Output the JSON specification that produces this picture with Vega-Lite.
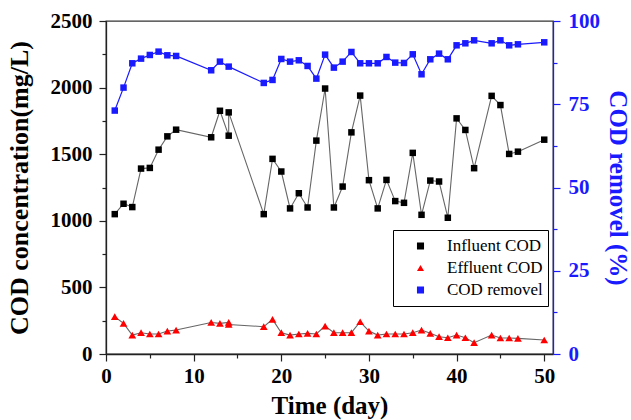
{
  "$schema": "https://vega.github.io/schema/vega-lite/v6.json",
  "width": 447,
  "height": 333,
  "autosize": "none",
  "padding": {"left": 106, "top": 21, "right": 78, "bottom": 66},
  "background": "white",
  "config": {
    "font": "Liberation Serif",
    "view": {"stroke": "#333333", "strokeWidth": 1.3},
    "axis": {
      "grid": false,
      "labelFont": "Liberation Serif",
      "labelFontWeight": "bold",
      "labelFontSize": 21,
      "labelColor": "black",
      "titleFont": "Liberation Serif",
      "titleFontWeight": "bold",
      "titleColor": "black",
      "domainColor": "#222222",
      "domainWidth": 1.3,
      "tickColor": "#222222",
      "tickWidth": 1.2,
      "labelFlush": false,
      "labelOverlap": false
    },
    "legend": {
      "labelFont": "Liberation Serif",
      "labelFontSize": 17,
      "labelColor": "black"
    }
  },
  "data": {
    "values": [
      {"day": 1, "value": 1050, "series": "Influent COD"},
      {"day": 2, "value": 1128, "series": "Influent COD"},
      {"day": 3, "value": 1103, "series": "Influent COD"},
      {"day": 4, "value": 1392, "series": "Influent COD"},
      {"day": 5, "value": 1397, "series": "Influent COD"},
      {"day": 6, "value": 1534, "series": "Influent COD"},
      {"day": 7, "value": 1634, "series": "Influent COD"},
      {"day": 8, "value": 1684, "series": "Influent COD"},
      {"day": 12, "value": 1627, "series": "Influent COD"},
      {"day": 13, "value": 1826, "series": "Influent COD"},
      {"day": 14, "value": 1639, "series": "Influent COD"},
      {"day": 14, "value": 1814, "series": "Influent COD"},
      {"day": 18, "value": 1050, "series": "Influent COD"},
      {"day": 19, "value": 1465, "series": "Influent COD"},
      {"day": 20, "value": 1370, "series": "Influent COD"},
      {"day": 21, "value": 1093, "series": "Influent COD"},
      {"day": 22, "value": 1207, "series": "Influent COD"},
      {"day": 23, "value": 1100, "series": "Influent COD"},
      {"day": 24, "value": 1602, "series": "Influent COD"},
      {"day": 25, "value": 1993, "series": "Influent COD"},
      {"day": 26, "value": 1100, "series": "Influent COD"},
      {"day": 27, "value": 1257, "series": "Influent COD"},
      {"day": 28, "value": 1664, "series": "Influent COD"},
      {"day": 29, "value": 1940, "series": "Influent COD"},
      {"day": 30, "value": 1305, "series": "Influent COD"},
      {"day": 31, "value": 1093, "series": "Influent COD"},
      {"day": 32, "value": 1307, "series": "Influent COD"},
      {"day": 33, "value": 1148, "series": "Influent COD"},
      {"day": 34, "value": 1135, "series": "Influent COD"},
      {"day": 35, "value": 1510, "series": "Influent COD"},
      {"day": 36, "value": 1045, "series": "Influent COD"},
      {"day": 37, "value": 1302, "series": "Influent COD"},
      {"day": 38, "value": 1295, "series": "Influent COD"},
      {"day": 39, "value": 1023, "series": "Influent COD"},
      {"day": 40, "value": 1769, "series": "Influent COD"},
      {"day": 41, "value": 1682, "series": "Influent COD"},
      {"day": 42, "value": 1395, "series": "Influent COD"},
      {"day": 44, "value": 1938, "series": "Influent COD"},
      {"day": 45, "value": 1869, "series": "Influent COD"},
      {"day": 46, "value": 1502, "series": "Influent COD"},
      {"day": 47, "value": 1519, "series": "Influent COD"},
      {"day": 50, "value": 1609, "series": "Influent COD"},
      {"day": 1, "value": 280, "series": "Effluent COD"},
      {"day": 2, "value": 230, "series": "Effluent COD"},
      {"day": 3, "value": 142, "series": "Effluent COD"},
      {"day": 4, "value": 160, "series": "Effluent COD"},
      {"day": 5, "value": 150, "series": "Effluent COD"},
      {"day": 6, "value": 150, "series": "Effluent COD"},
      {"day": 7, "value": 172, "series": "Effluent COD"},
      {"day": 8, "value": 180, "series": "Effluent COD"},
      {"day": 12, "value": 237, "series": "Effluent COD"},
      {"day": 13, "value": 230, "series": "Effluent COD"},
      {"day": 14, "value": 237, "series": "Effluent COD"},
      {"day": 14, "value": 222, "series": "Effluent COD"},
      {"day": 18, "value": 205, "series": "Effluent COD"},
      {"day": 19, "value": 260, "series": "Effluent COD"},
      {"day": 20, "value": 160, "series": "Effluent COD"},
      {"day": 21, "value": 142, "series": "Effluent COD"},
      {"day": 22, "value": 150, "series": "Effluent COD"},
      {"day": 23, "value": 155, "series": "Effluent COD"},
      {"day": 24, "value": 150, "series": "Effluent COD"},
      {"day": 25, "value": 210, "series": "Effluent COD"},
      {"day": 26, "value": 160, "series": "Effluent COD"},
      {"day": 27, "value": 160, "series": "Effluent COD"},
      {"day": 28, "value": 160, "series": "Effluent COD"},
      {"day": 29, "value": 242, "series": "Effluent COD"},
      {"day": 30, "value": 172, "series": "Effluent COD"},
      {"day": 31, "value": 142, "series": "Effluent COD"},
      {"day": 32, "value": 150, "series": "Effluent COD"},
      {"day": 33, "value": 150, "series": "Effluent COD"},
      {"day": 34, "value": 150, "series": "Effluent COD"},
      {"day": 35, "value": 160, "series": "Effluent COD"},
      {"day": 36, "value": 180, "series": "Effluent COD"},
      {"day": 37, "value": 155, "series": "Effluent COD"},
      {"day": 38, "value": 130, "series": "Effluent COD"},
      {"day": 39, "value": 122, "series": "Effluent COD"},
      {"day": 40, "value": 142, "series": "Effluent COD"},
      {"day": 41, "value": 122, "series": "Effluent COD"},
      {"day": 42, "value": 85, "series": "Effluent COD"},
      {"day": 44, "value": 142, "series": "Effluent COD"},
      {"day": 45, "value": 120, "series": "Effluent COD"},
      {"day": 46, "value": 120, "series": "Effluent COD"},
      {"day": 47, "value": 117, "series": "Effluent COD"},
      {"day": 50, "value": 105, "series": "Effluent COD"},
      {"day": 1, "value": 73.1, "series": "COD removel"},
      {"day": 2, "value": 80.0, "series": "COD removel"},
      {"day": 3, "value": 87.3, "series": "COD removel"},
      {"day": 4, "value": 88.7, "series": "COD removel"},
      {"day": 5, "value": 89.8, "series": "COD removel"},
      {"day": 6, "value": 90.8, "series": "COD removel"},
      {"day": 7, "value": 89.7, "series": "COD removel"},
      {"day": 8, "value": 89.5, "series": "COD removel"},
      {"day": 12, "value": 85.2, "series": "COD removel"},
      {"day": 13, "value": 87.8, "series": "COD removel"},
      {"day": 14, "value": 86.3, "series": "COD removel"},
      {"day": 18, "value": 81.4, "series": "COD removel"},
      {"day": 19, "value": 82.3, "series": "COD removel"},
      {"day": 20, "value": 88.6, "series": "COD removel"},
      {"day": 21, "value": 87.8, "series": "COD removel"},
      {"day": 22, "value": 88.2, "series": "COD removel"},
      {"day": 23, "value": 86.5, "series": "COD removel"},
      {"day": 24, "value": 82.7, "series": "COD removel"},
      {"day": 25, "value": 89.9, "series": "COD removel"},
      {"day": 26, "value": 86.0, "series": "COD removel"},
      {"day": 27, "value": 87.8, "series": "COD removel"},
      {"day": 28, "value": 90.7, "series": "COD removel"},
      {"day": 29, "value": 87.3, "series": "COD removel"},
      {"day": 30, "value": 87.3, "series": "COD removel"},
      {"day": 31, "value": 87.3, "series": "COD removel"},
      {"day": 32, "value": 89.2, "series": "COD removel"},
      {"day": 33, "value": 87.5, "series": "COD removel"},
      {"day": 34, "value": 87.4, "series": "COD removel"},
      {"day": 35, "value": 90.0, "series": "COD removel"},
      {"day": 36, "value": 84.0, "series": "COD removel"},
      {"day": 37, "value": 88.5, "series": "COD removel"},
      {"day": 38, "value": 90.2, "series": "COD removel"},
      {"day": 39, "value": 88.5, "series": "COD removel"},
      {"day": 40, "value": 92.7, "series": "COD removel"},
      {"day": 41, "value": 93.3, "series": "COD removel"},
      {"day": 42, "value": 94.2, "series": "COD removel"},
      {"day": 44, "value": 93.3, "series": "COD removel"},
      {"day": 45, "value": 94.2, "series": "COD removel"},
      {"day": 46, "value": 92.7, "series": "COD removel"},
      {"day": 47, "value": 93.0, "series": "COD removel"},
      {"day": 50, "value": 93.6, "series": "COD removel"}
    ]
  },
  "layer": [
    {
      "transform": [{"filter": "datum.series !== 'COD removel'"}],
      "encoding": {
        "x": {
          "field": "day",
          "type": "quantitative",
          "scale": {"domain": [0, 51], "nice": false, "zero": false},
          "axis": {
            "title": "Time (day)",
            "titleFontSize": 25,
            "titlePadding": 7,
            "values": [0, 5, 10, 15, 20, 25, 30, 35, 40, 45, 50],
            "labelExpr": "datum.value % 10 === 0 ? format(datum.value, 'd') : ''",
            "tickSize": {"condition": {"test": "datum.value % 10 === 0", "value": 7}, "value": 4},
            "labelPadding": 4
          }
        },
        "y": {
          "field": "value",
          "type": "quantitative",
          "scale": {"domain": [0, 2500], "nice": false},
          "axis": {
            "title": "COD concentration(mg/L)",
            "titleFontSize": 26,
            "titlePadding": 18,
            "values": [0, 250, 500, 750, 1000, 1250, 1500, 1750, 2000, 2250, 2500],
            "labelExpr": "datum.value % 500 === 0 ? format(datum.value, 'd') : ''",
            "tickSize": {"condition": {"test": "datum.value % 500 === 0", "value": 7}, "value": 4},
            "labelPadding": 7
          }
        }
      },
      "layer": [
        {
          "mark": {"type": "line", "color": "#666666", "strokeWidth": 1.1},
          "encoding": {"detail": {"field": "series"}, "order": {"value": null}}
        },
        {
          "transform": [{"filter": "datum.series === 'Influent COD'"}],
          "mark": {"type": "point", "filled": true, "opacity": 1, "size": 42},
          "encoding": {
            "color": {
              "field": "series",
              "type": "nominal",
              "scale": {"domain": ["Influent COD", "Effluent COD", "COD removel"], "range": ["#000000", "#ff0000", "#1a1aff"]},
              "legend": {
                "title": null,
                "orient": "none",
                "legendX": 287,
                "legendY": 209,
                "padding": 5,
                "fillColor": "white",
                "strokeColor": "black",
                "symbolSize": 50,
                "symbolOffset": 14,
                "clipHeight": 22,
                "rowPadding": 0,
                "labelOffset": 18,
                "symbolOpacity": 1,
                "symbolStrokeWidth": 0,
                "encode": {
                  "symbols": {
                    "update": {
                      "size": {"value": 50},
                      "strokeWidth": {"value": 0}
                    }
                  }
                }
              }
            },
            "shape": {
              "field": "series",
              "type": "nominal",
              "scale": {"domain": ["Influent COD", "Effluent COD", "COD removel"], "range": ["square", "triangle-up", "square"]},
              "legend": null
            }
          }
        },
        {
          "transform": [{"filter": "datum.series === 'Effluent COD'"}],
          "mark": {"type": "point", "filled": true, "opacity": 1, "size": 60},
          "encoding": {
            "color": {"field": "series", "type": "nominal"},
            "shape": {"field": "series", "type": "nominal", "legend": null}
          }
        }
      ]
    },
    {
      "transform": [{"filter": "datum.series === 'COD removel'"}],
      "encoding": {
        "x": {"field": "day", "type": "quantitative", "scale": {"domain": [0, 51], "nice": false, "zero": false}},
        "y": {
          "field": "value",
          "type": "quantitative",
          "scale": {"domain": [0, 100], "nice": false},
          "axis": {
            "orient": "right",
            "title": "COD removel (%)",
            "titleFontSize": 25,
            "titleColor": "#1a1aff",
            "titlePadding": 5,
            "labelColor": "#1a1aff",
            "domainColor": "#1a1aff",
            "tickColor": "#1a1aff",
            "values": [0, 12.5, 25, 37.5, 50, 62.5, 75, 87.5, 100],
            "labelExpr": "datum.value % 25 === 0 ? format(datum.value, 'd') : ''",
            "tickSize": {"condition": {"test": "datum.value % 25 === 0", "value": 7}, "value": 4},
            "labelPadding": 8
          }
        }
      },
      "layer": [
        {
          "mark": {"type": "line", "color": "#1a1aff", "strokeWidth": 1.2},
          "encoding": {"order": {"value": null}}
        },
        {
          "mark": {"type": "point", "filled": true, "opacity": 1, "size": 42},
          "encoding": {
            "color": {"field": "series", "type": "nominal"},
            "shape": {"field": "series", "type": "nominal", "legend": null}
          }
        }
      ]
    }
  ],
  "resolve": {"scale": {"y": "independent"}}
}
